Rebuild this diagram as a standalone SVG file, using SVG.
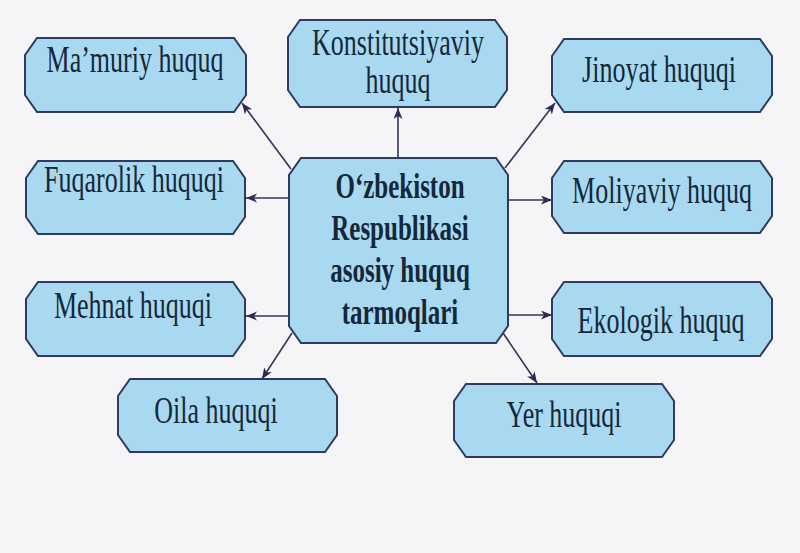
<svg xmlns="http://www.w3.org/2000/svg" width="800" height="553" viewBox="0 0 800 553">
<defs>
<style>
.box{fill:#a9d9f0;stroke:#2f3b5e;stroke-width:2}
.t{font-family:"Liberation Serif","Times New Roman",serif;font-size:26px;fill:#14283a;text-anchor:middle}
.b{font-family:"Liberation Serif","Times New Roman",serif;font-size:25px;font-weight:bold;fill:#14283a;text-anchor:middle}
.c{stroke:#35355a;stroke-width:1.6;fill:none;marker-end:url(#ah)}
</style>
<marker id="ah" markerUnits="userSpaceOnUse" markerWidth="12" markerHeight="10" refX="11" refY="4.5" orient="auto">
<path d="M0,0 L11,4.5 L0,9 L3,4.5 Z" fill="#2b2b55"/>
</marker>
</defs>
<rect width="800" height="553" fill="#f5f5f7"/>
<g id="connectors">
<line class="c" x1="291" y1="169" x2="242" y2="103"/>
<line class="c" x1="398" y1="158" x2="398" y2="108"/>
<line class="c" x1="505" y1="168" x2="555" y2="103"/>
<line class="c" x1="289" y1="198" x2="246" y2="198"/>
<line class="c" x1="508" y1="200" x2="552" y2="200"/>
<line class="c" x1="289" y1="316" x2="246" y2="316"/>
<line class="c" x1="508" y1="315" x2="552" y2="315"/>
<line class="c" x1="292" y1="333" x2="262" y2="379"/>
<line class="c" x1="503" y1="333" x2="537" y2="383"/>
</g>
<g id="n-center">
<path class="box" d="M301,158 H496 L508,175 V326 L496,343 H301 L289,326 V175 Z"/>
<text class="b" transform="translate(400,198) scale(1,1.45)">O‘zbekiston</text>
<text class="b" transform="translate(400,240) scale(1,1.45)">Respublikasi</text>
<text class="b" transform="translate(400,282) scale(1,1.45)">asosiy huquq</text>
<text class="b" transform="translate(400,324) scale(1,1.45)">tarmoqlari</text>
</g>
<g id="n-mamuriy">
<path class="box" d="M37,38 H234 L246,55 V95 L234,112 H37 L25,95 V55 Z"/>
<text class="t" transform="translate(135,72) scale(1,1.45)">Ma’muriy huquq</text>
</g>
<g id="n-konstitutsiyaviy">
<path class="box" d="M300,20 H495 L507,37 V90 L495,107 H300 L288,90 V37 Z"/>
<text class="t" transform="translate(398,55) scale(1,1.45)">Konstitutsiyaviy</text>
<text class="t" transform="translate(398,93) scale(1,1.45)">huquq</text>
</g>
<g id="n-jinoyat">
<path class="box" d="M564,39 H760 L772,56 V95 L760,112 H564 L552,95 V56 Z"/>
<text class="t" transform="translate(659,82) scale(1,1.45)">Jinoyat huquqi</text>
</g>
<g id="n-fuqarolik">
<path class="box" d="M38,161 H233 L245,178 V217 L233,234 H38 L26,217 V178 Z"/>
<text class="t" transform="translate(134,192) scale(1,1.45)">Fuqarolik huquqi</text>
</g>
<g id="n-moliyaviy">
<path class="box" d="M564,161 H760 L772,178 V216 L760,233 H564 L552,216 V178 Z"/>
<text class="t" transform="translate(662,203) scale(1,1.45)">Moliyaviy huquq</text>
</g>
<g id="n-mehnat">
<path class="box" d="M38,282 H233 L245,299 V339 L233,356 H38 L26,339 V299 Z"/>
<text class="t" transform="translate(133,318) scale(1,1.45)">Mehnat huquqi</text>
</g>
<g id="n-ekologik">
<path class="box" d="M564,282 H760 L772,299 V339 L760,356 H564 L552,339 V299 Z"/>
<text class="t" transform="translate(661,333) scale(1,1.45)">Ekologik huquq</text>
</g>
<g id="n-oila">
<path class="box" d="M130,379 H325 L337,396 V435 L325,452 H130 L118,435 V396 Z"/>
<text class="t" transform="translate(216,423) scale(1,1.45)">Oila huquqi</text>
</g>
<g id="n-yer">
<path class="box" d="M466,384 H662 L674,401 V440 L662,457 H466 L454,440 V401 Z"/>
<text class="t" transform="translate(564,427) scale(1,1.45)">Yer huquqi</text>
</g>
</svg>
